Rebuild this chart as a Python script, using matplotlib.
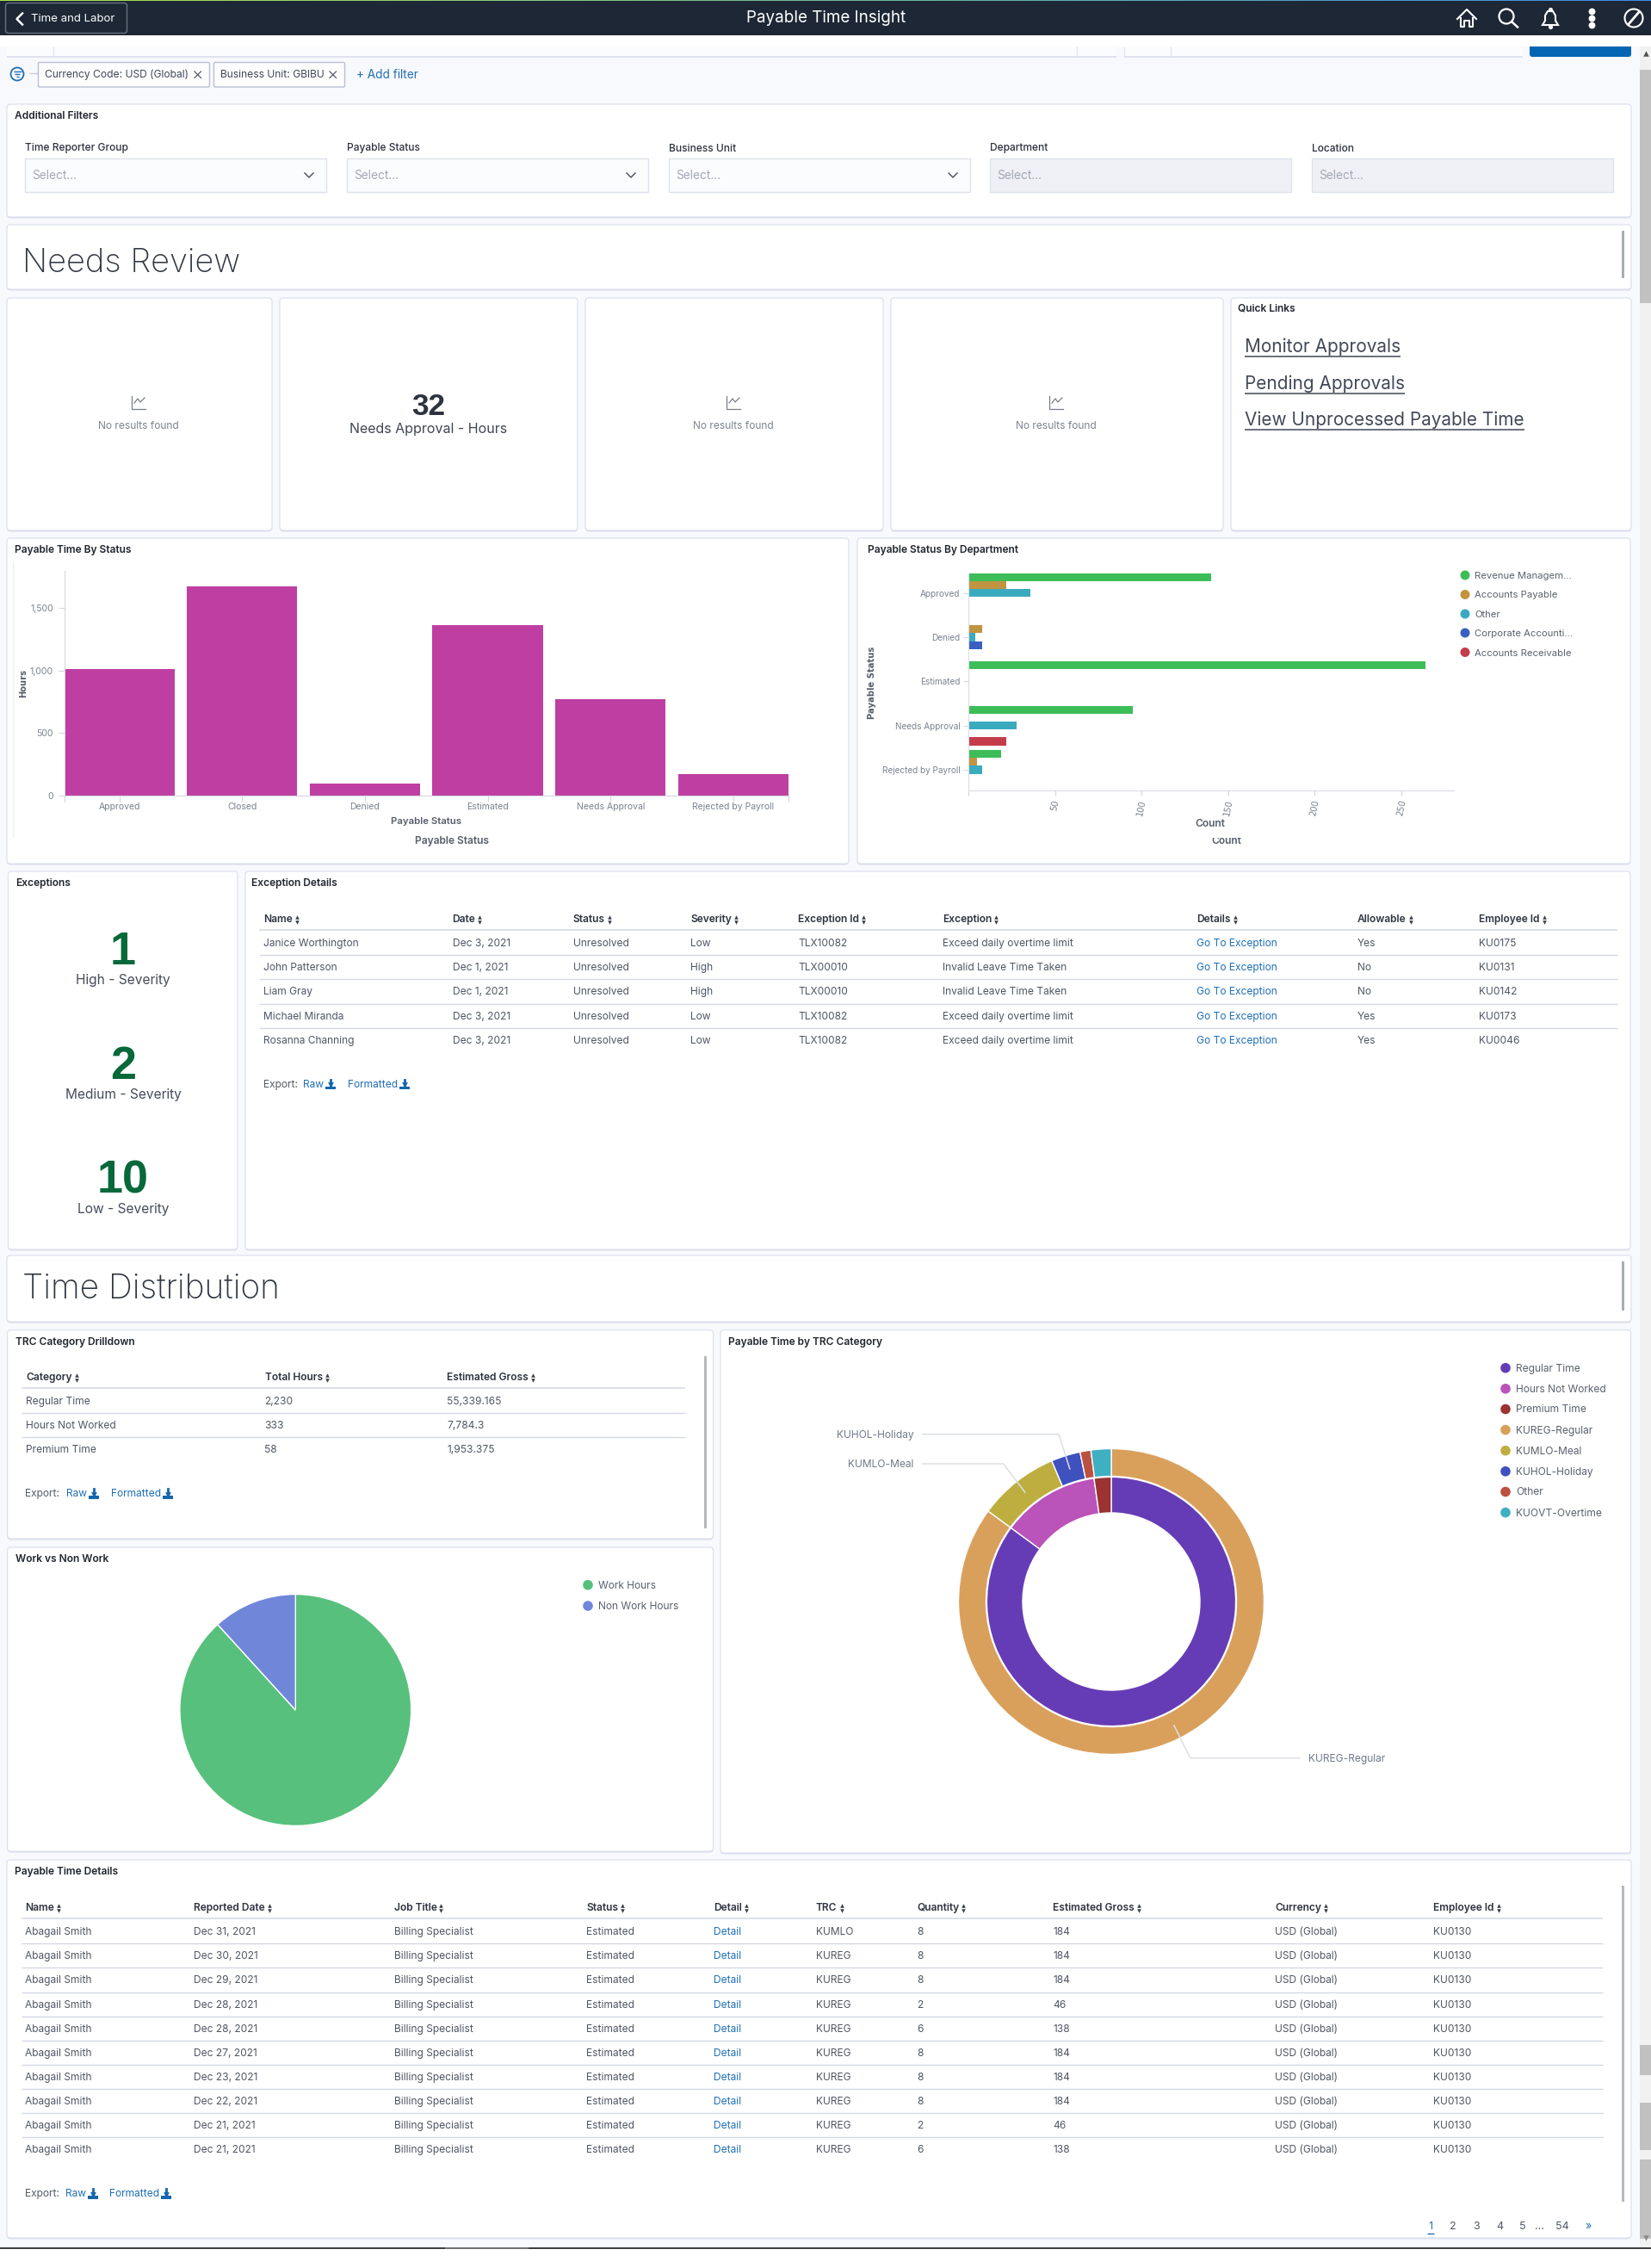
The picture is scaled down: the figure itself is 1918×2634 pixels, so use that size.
import numpy as np
import matplotlib; matplotlib.use("Agg"); import matplotlib.pyplot as plt
from matplotlib.patches import FancyBboxPatch, Rectangle, Circle, Polygon

plt.rcParams["font.family"] = ["Inter", "DejaVu Sans"]

# ---- chart data
status_cats = ["Approved", "Closed", "Denied", "Estimated", "Needs Approval", "Rejected by Payroll"]
status_hours = [1011, 1671, 98, 1364, 768, 170]

dept_cats = ["Approved", "Denied", "Estimated", "Needs Approval", "Rejected by Payroll"]
dept_names = ["Revenue Managem...", "Accounts Payable", "Other", "Corporate Accounti...", "Accounts Receivable"]
dept_revenue = [140, 0, 264, 95, 19]
dept_payable = [22, 8, 0, 0, 5]
dept_other = [36, 4, 0, 28, 8]
dept_corporate = [0, 8, 0, 0, 0]
dept_receivable = [0, 0, 0, 22, 0]
dept_colors = ["#3dbd58", "#c09440", "#3aaabf", "#3a5fc0", "#c43c4a"]

work_labels = ["Work Hours", "Non Work Hours"]
work_share = [88.25, 11.75]
work_colors = ["#57c07c", "#6f86d9"]

trc_inner_labels = ["Regular Time", "Hours Not Worked", "Premium Time"]
trc_inner = [2230, 333, 58]
trc_inner_colors = ["#653cb5", "#ba53ba", "#9c3232"]
trc_outer_labels = ["KUREG-Regular", "KUMLO-Meal", "KUHOL-Holiday", "Other", "KUOVT-Overtime"]
trc_outer = [2230, 224, 81, 30, 56]
trc_outer_colors = ["#d9a05c", "#bdae3f", "#3f50bf", "#bb5140", "#3fafc2"]

# ---- table data
exc_head = ["Name", "Date", "Status", "Severity", "Exception Id", "Exception", "Details", "Allowable", "Employee Id"]
exc_names = ["Janice Worthington", "John Patterson", "Liam Gray", "Michael Miranda", "Rosanna Channing"]
exc_dates = ["Dec 3, 2021", "Dec 1, 2021", "Dec 1, 2021", "Dec 3, 2021", "Dec 3, 2021"]
exc_severity = ["Low", "High", "High", "Low", "Low"]
exc_ids = ["TLX10082", "TLX00010", "TLX00010", "TLX10082", "TLX10082"]
exc_text = ["Exceed daily overtime limit", "Invalid Leave Time Taken", "Invalid Leave Time Taken",
            "Exceed daily overtime limit", "Exceed daily overtime limit"]
exc_allow = ["Yes", "No", "No", "Yes", "Yes"]
exc_emp = ["KU0175", "KU0131", "KU0142", "KU0173", "KU0046"]

trc_head = ["Category", "Total Hours", "Estimated Gross"]
trc_hours = ["2,230", "333", "58"]
trc_gross = ["55,339.165", "7,784.3", "1,953.375"]

det_head = ["Name", "Reported Date", "Job Title", "Status", "Detail", "TRC", "Quantity", "Estimated Gross", "Currency", "Employee Id"]
det_dates = ["Dec 31, 2021", "Dec 30, 2021", "Dec 29, 2021", "Dec 28, 2021", "Dec 28, 2021",
             "Dec 27, 2021", "Dec 23, 2021", "Dec 22, 2021", "Dec 21, 2021", "Dec 21, 2021"]
det_trc = ["KUMLO"] + ["KUREG"] * 9
det_qty = ["8", "8", "8", "2", "6", "8", "8", "8", "2", "6"]
det_gross = ["184", "184", "184", "46", "138", "184", "184", "184", "46", "138"]

filter_labels = ["Time Reporter Group", "Payable Status", "Business Unit", "Department", "Location"]
severity_counts = ["1", "2", "10"]
severity_labels = ["High - Severity", "Medium - Severity", "Low - Severity"]
quick_links = ["Monitor Approvals", "Pending Approvals", "View Unprocessed Payable Time"]

W, H = 1918, 2634
DARK, BODY, GREY, LINK = "#1d2735", "#4f5664", "#7a8290", "#1f6fb5"
ARIAL = "Liberation Sans"

fig = plt.figure(figsize=(W / 100, H / 100), dpi=100, facecolor="#f8f9fc")

def full_axes(z):
    a = fig.add_axes([0, 0, 1, 1], zorder=z); a.set_xlim(0, W); a.set_ylim(H, 0); a.axis("off"); a.patch.set_alpha(0)
    return a

def px_axes(x0, y0, x1, y1):
    a = fig.add_axes([x0 / W, 1 - y1 / H, (x1 - x0) / W, (y1 - y0) / H], zorder=2); a.patch.set_alpha(0)
    return a

ax = full_axes(0); over = full_axes(3)
rend = fig.canvas.get_renderer()

def T(x, y, s, px=12, c=BODY, a=ax, ha="left", va="center", w="normal", **kw):
    return a.text(x, y + 1, s, fontsize=px * 0.72, color=c, ha=ha, va=va, fontweight=w, **kw)

def rect(x0, y0, x1, y1, c, z=1):
    ax.add_patch(Rectangle((x0, y0), x1 - x0, y1 - y0, fc=c, ec="none", zorder=z))

def card(x0, y0, x1, y1, title=None, tx=None):
    ax.add_patch(FancyBboxPatch((x0, y0 + 1.5), x1 - x0, y1 - y0, boxstyle="round,pad=0,rounding_size=4", fc="#d9deea", ec="none", zorder=1))
    ax.add_patch(FancyBboxPatch((x0, y0), x1 - x0, y1 - y0, boxstyle="round,pad=0,rounding_size=4", fc="white", ec="#dde1ee", lw=.9, zorder=1))
    if title:
        T(tx if tx else x0 + 9, y0 + 13, title, 12, "#20262f", w="semibold", zorder=2)

def sort_arrows(t, y):
    xe = t.get_window_extent(rend).x1 + 5
    ax.scatter([xe], [y - 1.8], marker="^", s=11, c="#3a404c", lw=0, zorder=3)
    ax.scatter([xe], [y + 3.8], marker="v", s=11, c="#3a404c", lw=0, zorder=3)

def download(x, y):
    ax.plot([x, x], [y - 5, y + 1], color="#1566ad", lw=2, zorder=3)
    ax.scatter([x], [y + 1.5], marker="v", s=24, c="#1566ad", lw=0, zorder=3)
    rect(x - 6, y + 3, x + 6, y + 6.5, "#1566ad", 3)

def export(x, xr, xf, y):
    T(x, y, "Export:", 12, "#555c68", zorder=2)
    for xx, s in ((xr, "Raw"), (xf, "Formatted")):
        t = T(xx, y, s, 12, LINK, zorder=2)
        download(t.get_window_extent(rend).x1 + 8, y)

def table(head, cols, xs, yh, rows_y, x0, x1, links=()):
    for x, s in zip(xs, head):
        sort_arrows(T(x, yh, s, 12, "#2d3340", w="semibold", zorder=2), yh)
    ax.hlines([yh + 13], x0, x1, color="#d5d9e6", lw=1.1, zorder=2)
    ax.hlines([(a + b) / 2 for a, b in zip(rows_y[:-1], rows_y[1:])], x0, x1, color="#d5d9e6", lw=1, zorder=2)
    for j, (x, col) in enumerate(zip(xs, cols)):
        for y, s in zip(rows_y, col):
            T(x, y, s, 12, LINK if j in links else BODY, zorder=2)

# ---- header
grad = np.linspace(0, 1, 256)[None, :, None] * np.array([58 - 170, 143 - 228, 232 - 72]) + np.array([170, 228, 72])
ax.imshow(grad / 255, extent=[0, W, 1.2, 0], aspect="auto", zorder=3)
ax.set_xlim(0, W); ax.set_ylim(H, 0)
rect(0, 1, W, 41, DARK)
rect(0, 41, W, 54, "white")
ax.add_patch(FancyBboxPatch((6.5, 3.5), 141, 35, boxstyle="round,pad=0,rounding_size=3", fc="none", ec="#69727f", lw=1, zorder=2))
ax.plot([26, 19.5, 26], [15.5, 22, 28.5], color="white", lw=1.8, zorder=3)
T(36, 21, "Time and Labor", 13.2, "white", zorder=3)
T(960, 20, "Payable Time Insight", 18.8, "white", ha="center", zorder=3)
# icons on the bar
ax.plot([1693, 1704, 1715], [22, 11, 22], color="white", lw=1.5, zorder=3)
ax.plot([1697, 1697, 1701, 1701, 1707, 1707, 1711, 1711], [21, 31, 31, 24, 24, 31, 31, 21], color="white", lw=1.5, zorder=3)
ax.add_patch(Circle((1750, 19), 8.5, fc="none", ec="white", lw=1.6, zorder=3))
ax.plot([1756, 1763], [25, 31.5], color="white", lw=1.8, zorder=3)
ax.add_patch(Polygon([[1792, 29], [1795, 24], [1795, 18], [1798, 13], [1804, 13], [1807, 18], [1807, 24], [1810, 29]], closed=True, fc="none", ec="white", lw=1.5, zorder=3))
ax.scatter([1801, 1801], [11, 31], s=14, c="white", lw=0, zorder=3)
ax.scatter([1849, 1849, 1849], [13, 21, 29], s=32, c="white", lw=0, zorder=3)
ax.add_patch(Circle((1898, 21), 10.5, fc="none", ec="white", lw=1.5, zorder=3))
ax.plot([1892, 1904], [28, 14], color="white", lw=2, zorder=3)

# ---- cut-off strip under header
for x0, x1 in ((8, 1297), (1306, 1769)):
    rect(x0, 54, x1, 65, "#fbfcfe"); rect(x0, 65, x1, 66.5, "#dfe3ee")
ax.vlines([62, 1251, 1306, 1360], 54, 65, color="#e3e6ee", lw=1, zorder=2)
ax.add_patch(FancyBboxPatch((1777, 50), 118, 16, boxstyle="round,pad=0,rounding_size=3", fc="#0466b3", ec="none", zorder=1))
rect(1770, 41, 1905, 54, "white", 1)

# ---- filter chips
ax.add_patch(Circle((20, 86), 7.5, fc="none", ec=LINK, lw=1.3, zorder=2))
ax.hlines([83, 86, 89], [15.5, 17, 18.5], [24.5, 23, 21.5], color=LINK, lw=1, zorder=2)
ax.hlines([85], 34, 44, color="#c8ccd8", lw=1, zorder=2)
for x0, x1, s in ((44.5, 243.5, "Currency Code: USD (Global)"), (248.5, 400.5, "Business Unit: GBIBU")):
    ax.add_patch(FancyBboxPatch((x0, 72.5), x1 - x0, 28.5, boxstyle="round,pad=0,rounding_size=1.5", fc="#fdfdfe", ec="#b9bed2", lw=1, zorder=2))
    T(x0 + 8, 86, s, 12.1, "#424a58", zorder=3)
    ax.plot([x1 - 17.5, x1 - 10], [83, 90.5], color="#555c68", lw=.9, zorder=3)
    ax.plot([x1 - 17.5, x1 - 10], [90.5, 83], color="#555c68", lw=.9, zorder=3)
T(414, 86, "+ Add filter", 13.6, LINK, zorder=3)

# ---- additional filters
card(8, 121, 1895, 252)
T(17, 134, "Additional Filters", 12, "#20262f", w="semibold", zorder=2)
for i, (x0, s) in enumerate(zip([29, 403, 777, 1150, 1524], filter_labels)):
    T(x0, 174.5, s, 12, "#2d3340", va="baseline", w="medium", zorder=2)
    ax.add_patch(Rectangle((x0, 184), 350, 39, fc="#fbfcfe" if i < 3 else "#eef0f5", ec="#dde1ec", lw=1, zorder=2))
    T(x0 + 8, 203.5, "Select...", 13.6, "#a2a8b5", zorder=3)
    if i < 3:
        ax.plot([x0 + 325, x0 + 330, x0 + 335], [201, 206, 201], color="#444b58", lw=1, zorder=3)

# ---- section bars
for y0, y1, ty, s, sz in ((261, 336, 304.5, "Needs Review", 38), (1458, 1535, 1496.5, "Time Distribution", 38.8)):
    card(8, y0, 1895, y1)
    T(26, ty, s, sz, "#2f3540", w="light", zorder=2)
    rect(1884, y0 + 7, 1887, y1 - 13, "#a9adb4", 2)

# ---- KPI cards
for x0, x1 in ((8, 316), (325, 671), (680, 1026), (1035, 1421), (1430, 1895)):
    card(x0, 346, x1, 616)
for cx in (161, 852, 1227):
    ax.plot([cx - 8, cx - 8, cx + 8], [460, 475, 475], color="#777d88", lw=.9, zorder=2)
    ax.plot([cx - 5, cx - 1, cx + 2, cx + 7], [468, 463, 467, 462], color="#777d88", lw=.9, zorder=2)
    T(cx, 494, "No results found", 12, "#7d838e", ha="center", zorder=2)
T(498, 472, "32", 35, "#2d3340", ha="center", w="bold", family=ARIAL, zorder=2)
T(498, 498, "Needs Approval - Hours", 16, "#3f4654", ha="center", zorder=2)
T(1438, 358, "Quick Links", 12, "#20262f", w="semibold", zorder=2)
for y, s in zip((402, 445, 487), quick_links):
    t = T(1446, y, s, 20.8, "#414857", zorder=2)
    ax.hlines([y + 12], 1446, t.get_window_extent(rend).x1, color="#414857", lw=1.1, zorder=2)

# ---- Payable Time By Status
card(8, 625, 986, 1003, "Payable Time By Status")
ax.vlines([15], 651, 972, color="#eceef3", lw=1, zorder=2)
b = px_axes(74.5, 662.7, 916, 924)
xs = np.arange(len(status_cats))
b.bar(xs, status_hours, width=0.9, color="#bf3ea2", edgecolor="none")
b.set_xlim(-0.45, 5.45); b.set_ylim(0, 1797)
b.set_xticks(xs, status_cats); b.set_xticks([-0.45, 5.45], minor=True)
b.set_yticks([0, 500, 1000, 1500], ["0", "500", "1,000", "1,500"])
b.tick_params(axis="both", which="both", length=5, width=.8, color="#d4d7df", labelcolor=GREY, labelsize=10.5 * .72)
b.tick_params(axis="x", pad=1)
b.tick_params(axis="y", pad=4)
for s in ("top", "right"):
    b.spines[s].set_visible(False)
for s in ("left", "bottom"):
    b.spines[s].set_color("#d9d6e2")
T(495, 953, "Payable Status", 11.5, "#565d6a", ha="center", w="semibold", zorder=2)
T(525, 976, "Payable Status", 12, "#565d6a", ha="center", w="semibold", zorder=2)
T(27, 793, "Hours", 10, "#565d6a", ha="center", rotation=90, w="bold", family="DejaVu Sans", zorder=2)

# ---- Payable Status By Department
card(996, 625, 1894, 1003, "Payable Status By Department", 1008)
h = px_axes(1125, 665.7, 1689.4, 918)
ys = np.arange(len(dept_cats))
for i, (vals, col) in enumerate(zip([dept_revenue, dept_payable, dept_other, dept_corporate, dept_receivable], dept_colors)):
    h.barh(ys + (i - 2) * 0.18, vals, height=0.18, color=col, edgecolor="none")
h.set_xlim(0, 280.6); h.set_ylim(4.47, -0.45)
h.set_yticks(ys, dept_cats); h.set_xticks([0, 50, 100, 150, 200, 250], ["", "50", "100", "150", "200", "250"])
h.tick_params(axis="y", length=4, width=.8, color="#d4d7df", labelcolor=GREY, labelsize=10 * .72, pad=3)
h.tick_params(axis="x", length=4, width=.8, color="#d4d7df", labelcolor=GREY, labelsize=10 * .72, pad=3, labelrotation=78)
for t in h.get_xticklabels():
    t.set_family("DejaVu Sans"); t.set_ha("center")
for s in ("top", "right"):
    h.spines[s].set_visible(False)
for s in ("left", "bottom"):
    h.spines[s].set_color("#d9dce4")
T(1406, 956, "Count", 12, "#565d6a", ha="center", w="semibold", zorder=2)
cnt = T(1425, 976, "Count", 12, "#565d6a", ha="center", w="semibold", zorder=2)
cnt.set_clip_path(Rectangle((1400, 973), 60, 12, transform=ax.transData))
cnt.set_clip_on(True)
T(1012.5, 792, "Payable Status", 10, "#565d6a", ha="center", rotation=90, w="bold", family="DejaVu Sans", zorder=2)
for y, s, c in zip((668, 690.5, 713, 735, 757.5), dept_names, dept_colors):
    ax.add_patch(Circle((1702, y), 5.5, fc=c, ec="none", zorder=2))
    T(1713, y, s, 11.3, "#5a616d", zorder=2)

# ---- Exceptions
card(9.5, 1012, 276, 1451, "Exceptions")
for y, n, s in zip((1102.7, 1235.7, 1368), severity_counts, severity_labels):
    T(143, y + 2.5, n, 54, "#07683a", ha="center", w="bold", family=ARIAL, zorder=2)
    T(143, y + 35, s, 15.5, "#454c5a", ha="center", zorder=2)

card(285, 1012, 1894, 1451, "Exception Details", 292)
exc_rows = [1095, 1123, 1151, 1180, 1208]
table(exc_head, [exc_names, exc_dates, ["Unresolved"] * 5, exc_severity, exc_ids, exc_text, ["Go To Exception"] * 5, exc_allow, exc_emp],
      [306, 525.5, 665.6, 802, 927, 1095, 1390, 1577, 1718], 1067, exc_rows, 301, 1879, links=(6,))
export(306, 352, 404, 1258.7)

# ---- TRC Category Drilldown
card(8.6, 1544.6, 828.6, 1787, "TRC Category Drilldown")
trc_rows = [1627, 1655, 1683]
table(trc_head, [trc_inner_labels, trc_hours, trc_gross], [30, 307.5, 519], 1599, trc_rows, 25, 796)
export(29.5, 76.6, 128.5, 1734)
rect(818, 1575, 821, 1775, "#b5b8bd", 2)

# ---- Work vs Non Work
card(8.6, 1797, 828.6, 2150, "Work vs Non Work")
RP = 134.4
p = px_axes(343.3 - RP, 1986 - RP, 343.3 + RP, 1986 + RP)
p.pie(work_share, colors=work_colors, startangle=90, counterclock=False, radius=1,
      wedgeprops=dict(edgecolor="white", linewidth=1.0))
p.set_xlim(-1, 1); p.set_ylim(-1, 1)
for y, s, c in zip((1840.7, 1865), work_labels, work_colors):
    ax.add_patch(Circle((683, y), 5.8, fc=c, ec="none", zorder=2))
    T(695, y, s, 12, "#5a616d", zorder=2)

# ---- Payable Time by TRC Category
card(837, 1544.6, 1894.6, 2152, "Payable Time by TRC Category")
R = 177.5; CX, CY = 1291, 1860
d = px_axes(CX - R, CY - R, CX + R, CY + R)
d.pie(trc_outer, colors=trc_outer_colors, startangle=90, counterclock=False, radius=1,
      wedgeprops=dict(width=32 / R, edgecolor="white", linewidth=1.0))
d.pie(trc_inner, colors=trc_inner_colors, startangle=90, counterclock=False, radius=144.6 / R,
      wedgeprops=dict(width=41.6 / R, edgecolor="white", linewidth=1.0))
d.set_xlim(-1, 1); d.set_ylim(-1, 1)
# leader lines start at the middle of their outer slice
mids = (np.cumsum(trc_outer) - np.array(trc_outer) / 2) / sum(trc_outer) * 2 * np.pi
for idx, ex, ey, lx, ha in ((2, 1230, 1665.7, 1071.7, "right"), (1, 1165.7, 1700, 1071.7, "right"), (0, 1382.7, 2041.7, 1510, "left")):
    sx, sy = CX + 161.5 * np.sin(mids[idx]), CY - 161.5 * np.cos(mids[idx])
    over.plot([sx, ex, lx], [sy, ey, ey], color="#dcdfe5", lw=1.1)
    T(lx - 10 if ha == "right" else lx + 10, ey, trc_outer_labels[idx], 12, "#6f7a8a", a=over, ha=ha)
leg = trc_inner_labels + trc_outer_labels
for y, s, c in zip((1588.7, 1612.8, 1636.5, 1660.6, 1684.7, 1708.8, 1732.5, 1756.6), leg, trc_inner_colors + trc_outer_colors):
    ax.add_patch(Circle((1749, y), 5.8, fc=c, ec="none", zorder=2))
    T(1761, y, s, 12, "#5a616d", zorder=2)

# ---- Payable Time Details
card(8, 2160, 1895, 2599, "Payable Time Details")
det_rows = [2243, 2271, 2299, 2328, 2356, 2384, 2412, 2440, 2468, 2496]
n = len(det_rows)
table(det_head, [["Abagail Smith"] * n, det_dates, ["Billing Specialist"] * n, ["Estimated"] * n, ["Detail"] * n, det_trc, det_qty, det_gross, ["USD (Global)"] * n, ["KU0130"] * n],
      [29.4, 225, 457.5, 681, 829, 948, 1065, 1223, 1481, 1665], 2215, det_rows, 24.5, 1862, links=(4,))
export(29, 76, 127, 2547)
rect(1884, 2190, 1887, 2557, "#b5b8bd", 2)
for x, s, c in zip((1662, 1688, 1715, 1742, 1769, 1788, 1815, 1845), ("1", "2", "3", "4", "5", "...", "54", "»"),
                   (LINK, BODY, BODY, BODY, BODY, BODY, BODY, LINK)):
    T(x, 2585, s, 12.5, c, ha="center", zorder=2)
ax.hlines([2594], 1658, 1666, color=LINK, lw=1, zorder=2)

# ---- page scrollbar and bottom
rect(1905, 54, W, 2610, "#f1f1f1", 2)
ax.scatter([1911.5], [62], marker="^", s=22, c="#505050", lw=0, zorder=3)
for y0, y1 in ((81, 352), (2375, 2410), (2442, 2497), (2508, 2600)):
    rect(1905, y0, W, y1, "#c1c1c1", 3)
ax.scatter([1911.5], [2599], marker="v", s=22, c="#8a8a8a", lw=0, zorder=4)
rect(0, 2610, W, H, "white", 4)
rect(0, 2610, W, 2612, "#3b3f42", 5)
rect(517, 2610, 614, 2612, "#6e7274", 6)

fig.savefig("out.png", dpi=100, facecolor=fig.get_facecolor())
